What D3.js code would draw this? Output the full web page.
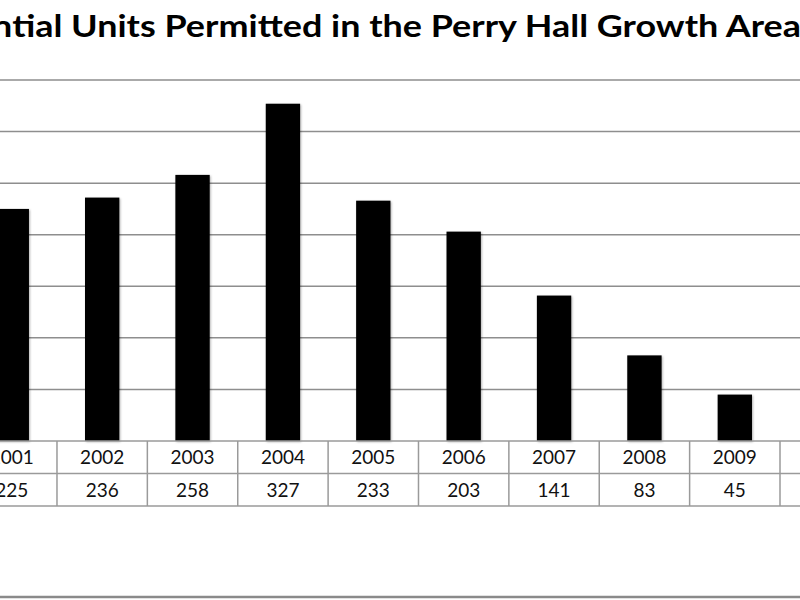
<!DOCTYPE html>
<html lang="en">
<head>
  <meta charset="UTF-8">
  <title>Residential Units Permitted</title>
  <style>
    body, html { margin: 0; padding: 0; background: #fff; }
    #svg { display: block; }
  </style>
</head>
<body>
  <svg id="svg" width="800" height="600"></svg>

  <script src="https://d3js.org/d3.v7.min.js"></script>
  <script>
    const title = 'Residential Units Permitted in the Perry Hall Growth Area'
    const years = ['2001', '2002', '2003', '2004', '2005', '2006', '2007', '2008', '2009']
    const units = [225, 236, 258, 327, 233, 203, 141, 83, 45]
    const yTicks = [0, 50, 100, 150, 200, 250, 300, 350]

    const svg = d3.select('#svg')

    // the chart is cropped on the left, so the first column starts off-screen
    const xscale = d3.scaleBand()
      .domain(years)
      .range([-33.4, 780])
      .paddingInner(0.62)
      .paddingOuter(0.31)

    const cols = d3.scaleBand()
      .domain(years)
      .range([-33.4, 780])

    const yscale = d3.scaleLinear()
      .domain([0, 350])
      .range([441, 80])

    // drop shadow for bars
    const defs = svg.append('defs')
    const f = defs.append('filter').attr('id', 'shadow')
      .attr('x', '-30%').attr('y', '-10%').attr('width', '160%').attr('height', '120%')
    f.append('feDropShadow')
      .attr('dx', 1).attr('dy', 1).attr('stdDeviation', 1.2)
      .attr('flood-color', '#000').attr('flood-opacity', 0.3)

    // gridlines
    svg.append('g')
      .selectAll('line')
      .data(yTicks.slice(1))
      .join('line')
      .attr('x1', 0).attr('x2', 800)
      .attr('y1', d => yscale(d)).attr('y2', d => yscale(d))
      .attr('stroke', '#8e8e8e')
      .attr('stroke-width', 1.5)

    // bars
    svg.append('g')
      .selectAll('rect')
      .data(units)
      .join('rect')
      .attr('x', (d, i) => xscale(years[i]))
      .attr('width', xscale.bandwidth())
      .attr('y', d => yscale(d))
      .attr('height', d => yscale(0) - yscale(d))
      .attr('fill', '#000')
      .attr('filter', 'url(#shadow)')

    // data table under the chart
    const rowTop = yscale(0)
    const rowMid = 473.5
    const rowBot = 506
    const table = svg.append('g')
      .attr('stroke', '#9a9a9a')
      .attr('stroke-width', 1.5)

    table.selectAll('line.h')
      .data([rowTop, rowMid, rowBot])
      .join('line')
      .attr('class', 'h')
      .attr('x1', 0).attr('x2', 800)
      .attr('y1', d => d).attr('y2', d => d)

    table.selectAll('line.v')
      .data(years)
      .join('line')
      .attr('class', 'v')
      .attr('x1', d => cols(d) + cols.bandwidth())
      .attr('x2', d => cols(d) + cols.bandwidth())
      .attr('y1', rowTop).attr('y2', rowBot)

    const labels = svg.append('g')
      .attr('font-family', 'Lato, "Open Sans", sans-serif')
      .attr('font-size', 19)
      .attr('fill', '#111')
      .attr('text-anchor', 'middle')

    labels.selectAll('text.year')
      .data(years)
      .join('text')
      .attr('class', 'year')
      .attr('x', d => cols(d) + cols.bandwidth() / 2)
      .attr('y', (rowTop + rowMid) / 2)
      .attr('dy', '0.36em')
      .text(d => d)

    labels.selectAll('text.val')
      .data(units)
      .join('text')
      .attr('class', 'val')
      .attr('x', (d, i) => cols(years[i]) + cols.bandwidth() / 2)
      .attr('y', (rowMid + rowBot) / 2)
      .attr('dy', '0.36em')
      .text(d => d)

    // title, its start is cut off by the crop
    const tg = svg.append('g')
    const t = tg.append('text')
      .attr('x', 0)
      .attr('y', 37)
      .attr('text-anchor', 'end')
      .attr('font-family', 'Lato, "Open Sans", sans-serif')
      .attr('font-weight', 'bold')
      .attr('font-size', 31)
      .attr('fill', '#000')
      .text(title)
    // squeeze horizontally so "ntial ... Area" spans the page like the reference
    const probe = svg.append('text')
      .attr('font-family', 'Lato, "Open Sans", sans-serif')
      .attr('font-weight', 'bold')
      .attr('font-size', 31)
      .text('ntial Units Permitted in the Perry Hall Growth Area')
    const visW = probe.node().getComputedTextLength()
    probe.remove()
    const k = 809 / visW
    tg.attr('transform', `translate(801,0) scale(${k},1)`)

    // bottom frame line
    svg.append('line')
      .attr('x1', 0).attr('x2', 800)
      .attr('y1', 597).attr('y2', 597)
      .attr('stroke', '#8a8a8a')
      .attr('stroke-width', 2.5)
  </script>
</body>
</html>
